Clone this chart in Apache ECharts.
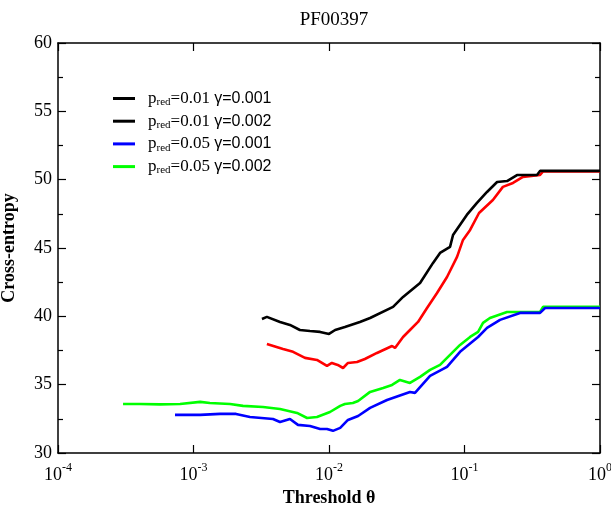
<!DOCTYPE html>
<html>
<head>
<meta charset="utf-8">
<script src="https://cdn.jsdelivr.net/npm/echarts@6/dist/echarts.min.js"></script>
<style>html,body{margin:0;padding:0;background:#fff}#c{width:611px;height:505px}</style>
</head>
<body>
<div id="c"></div>
<script>
var titleText = 'PF00397';
var seriesNames = ['p_red=0.01 γ=0.001', 'p_red=0.01 γ=0.002', 'p_red=0.05 γ=0.001', 'p_red=0.05 γ=0.002'];
var seriesColors = ['#000000', '#ff0000', '#0000ff', '#00ff00'];
var legendColors = ['#000000', '#000000', '#0000ff', '#00ff00'];

var blackX = [0.0032, 0.00348, 0.00435, 0.00515, 0.0061, 0.00724, 0.0086, 0.01, 0.0111, 0.0131, 0.0169, 0.0201, 0.0297, 0.0352, 0.047, 0.0586, 0.066, 0.0782, 0.0823, 0.104, 0.1236, 0.1466, 0.174, 0.206, 0.244, 0.343, 0.361, 1.0];
var blackY = [39.81, 39.96, 39.59, 39.37, 39.0, 38.93, 38.86, 38.71, 39.0, 39.22, 39.59, 39.88, 40.69, 41.42, 42.44, 43.91, 44.64, 45.08, 45.95, 47.42, 48.3, 49.1, 49.83, 49.9, 50.34, 50.34, 50.64, 50.64];

var redX = [0.00348, 0.00458, 0.00543, 0.00665, 0.00815, 0.00966, 0.0105, 0.0116, 0.0127, 0.0138, 0.0161, 0.0184, 0.0226, 0.0292, 0.0307, 0.0352, 0.0396, 0.0454, 0.0529, 0.0627, 0.0743, 0.0881, 0.0975, 0.11, 0.128, 0.162, 0.192, 0.228, 0.27, 0.361, 0.38, 1.0];
var redY = [37.98, 37.61, 37.4, 36.96, 36.81, 36.37, 36.59, 36.44, 36.22, 36.59, 36.66, 36.88, 37.32, 37.83, 37.69, 38.49, 39.0, 39.59, 40.61, 41.71, 42.88, 44.35, 45.59, 46.32, 47.56, 48.51, 49.47, 49.76, 50.2, 50.34, 50.6, 50.6];

var blueX = [0.00073, 0.00112, 0.00157, 0.00206, 0.00261, 0.00386, 0.00435, 0.00515, 0.0059, 0.00724, 0.0086, 0.00966, 0.0107, 0.0121, 0.0138, 0.0164, 0.0201, 0.0268, 0.0396, 0.0431, 0.0557, 0.0743, 0.0927, 0.126, 0.1466, 0.183, 0.257, 0.361, 0.393, 1.0];
var blueY = [32.79, 32.79, 32.86, 32.86, 32.64, 32.49, 32.27, 32.49, 32.06, 31.98, 31.76, 31.76, 31.62, 31.84, 32.42, 32.71, 33.3, 33.88, 34.47, 34.4, 35.64, 36.3, 37.4, 38.49, 39.15, 39.74, 40.25, 40.25, 40.61, 40.61];

var greenX = [0.000302, 0.000403, 0.000566, 0.000795, 0.00112, 0.00132, 0.00186, 0.00232, 0.00326, 0.00435, 0.00581, 0.00689, 0.00815, 0.01017, 0.0121, 0.0131, 0.015, 0.0164, 0.0201, 0.0251, 0.0292, 0.0334, 0.0396, 0.047, 0.0557, 0.066, 0.0782, 0.0927, 0.11, 0.126, 0.137, 0.154, 0.206, 0.361, 0.38, 1.0];
var greenY = [33.59, 33.59, 33.56, 33.59, 33.74, 33.66, 33.59, 33.45, 33.37, 33.22, 32.93, 32.56, 32.64, 33.0, 33.45, 33.59, 33.66, 33.81, 34.47, 34.76, 34.98, 35.35, 35.13, 35.57, 36.08, 36.45, 37.18, 37.91, 38.49, 38.86, 39.52, 39.88, 40.32, 40.32, 40.69, 40.69];

function zip(xs, ys) { return xs.map(function (x, i) { return [x, ys[i]]; }); }
var allX = [blackX, redX, blueX, greenX];
var allY = [blackY, redY, blueY, greenY];

var serif = '"Liberation Serif", "Times New Roman", serif';
var sans = '"Liberation Sans", Arial, sans-serif';

var chart = echarts.init(document.getElementById('c'), null, {renderer: 'canvas'});

var legendRich = {
  p: {fontFamily: serif, fontSize: 17, color: '#000'},
  s: {fontFamily: serif, fontSize: 11, color: '#000', verticalAlign: 'bottom', padding: [8, 0, 0, 0]},
  g: {fontFamily: sans, fontSize: 16, color: '#000'}
};

var series = seriesNames.map(function (n, i) {
  return {
    name: n, type: 'line', data: zip(allX[i], allY[i]), symbol: 'none', showSymbol: false,
    lineStyle: {color: seriesColors[i], width: 2.6}, itemStyle: {color: seriesColors[i]},
    z: 10 - i, animation: false
  };
});

var axisLine = {show: true, lineStyle: {color: '#000', width: 1.5}};
var tick = {show: true, inside: true, length: 8, lineStyle: {color: '#000', width: 1.2}};
var minor = {show: true, splitNumber: 2, length: 5, lineStyle: {color: '#000', width: 1.2}};

chart.setOption({
  animation: false,
  backgroundColor: '#fff',
  title: {text: titleText, left: 329, textAlign: 'center', top: 6,
    textStyle: {fontFamily: serif, fontSize: 19, fontWeight: 'normal', color: '#000'}},
  grid: {left: 58, right: 11, top: 43, bottom: 52, containLabel: false, outerBoundsMode: 'none'},
  legend: {
    orient: 'vertical', left: 108, top: 85, itemWidth: 22, itemHeight: 3, itemGap: 4.7,
    icon: 'rect',
    data: seriesNames.map(function (n, i) { return {name: n, icon: 'rect', itemStyle: {color: legendColors[i]}}; }),
    formatter: function (name) {
      var m = name.match(/p_red=([0-9.]+) γ=([0-9.]+)/);
      return '{p|p}{s|red}{p|=' + m[1] + ' }{g|γ=' + m[2] + '}';
    },
    textStyle: {rich: legendRich, padding: [0, 0, 0, 8]},
    selectedMode: false
  },
  xAxis: [{
    type: 'log', logBase: 10, min: 0.0001, max: 1, position: 'bottom',
    axisLine: axisLine, splitLine: {show: false}, axisTick: tick, minorTick: {show: false},
    axisLabel: {
      margin: 9, color: '#000', fontFamily: serif, fontSize: 18,
      formatter: function (v) { var e = Math.round(Math.log10(v)); return '{b|10}{sup|' + e + '}'; },
      rich: {
        b: {fontFamily: serif, fontSize: 18, color: '#000', padding: [4, 0, 0, 0]},
        sup: {fontFamily: serif, fontSize: 12, verticalAlign: 'top', padding: [0, 0, 10, 0], color: '#000'}
      }
    },
    name: 'Threshold θ', nameLocation: 'middle', nameGap: 31,
    nameTextStyle: {fontFamily: serif, fontSize: 18, fontWeight: 'bold', color: '#000'}
  }, {
    type: 'log', logBase: 10, min: 0.0001, max: 1, position: 'top',
    axisLine: axisLine, splitLine: {show: false}, axisTick: tick, axisLabel: {show: false}
  }],
  yAxis: [{
    type: 'value', min: 30, max: 60, interval: 5, position: 'left',
    axisLine: axisLine, splitLine: {show: false}, axisTick: tick, minorTick: minor,
    axisLabel: {margin: 6, color: '#000', fontFamily: serif, fontSize: 18},
    name: 'Cross-entropy', nameLocation: 'middle', nameGap: 40,
    nameTextStyle: {fontFamily: serif, fontSize: 18, fontWeight: 'bold', color: '#000'}
  }, {
    type: 'value', min: 30, max: 60, interval: 5, position: 'right',
    axisLine: axisLine, splitLine: {show: false}, axisTick: tick, minorTick: minor,
    axisLabel: {show: false}
  }],
  series: series
});
</script>
</body>
</html>
